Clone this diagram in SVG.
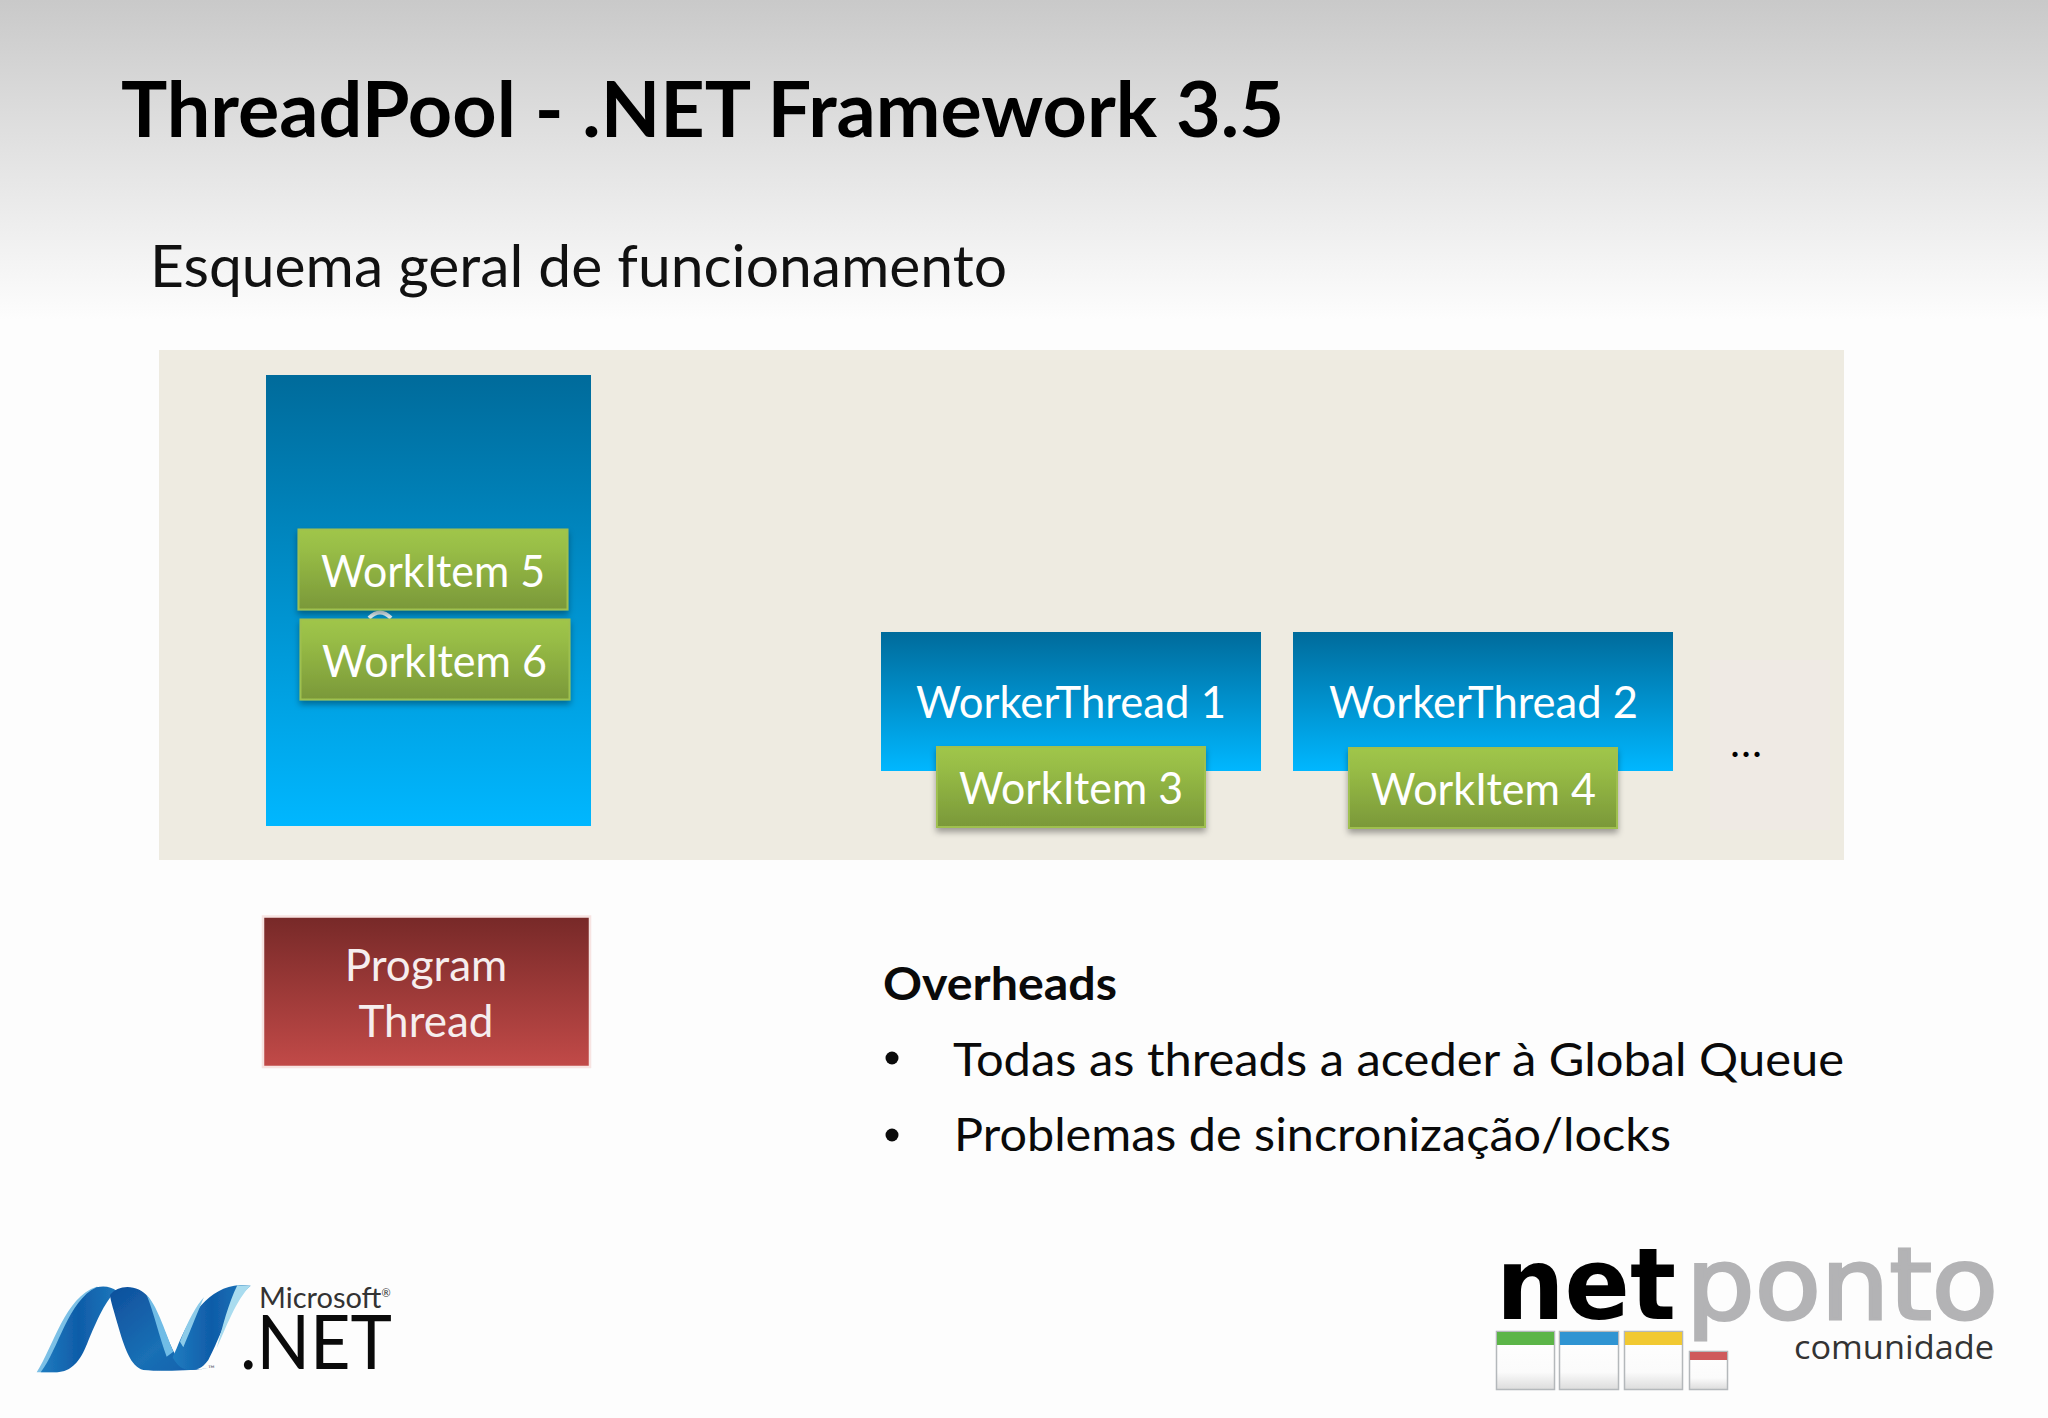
<svg xmlns="http://www.w3.org/2000/svg" width="2048" height="1418" viewBox="0 0 2048 1418">
<style>
text{font-family:"Lato","Liberation Sans",sans-serif}
.w{fill:#fff;font-size:44px}
.k{fill:#0a0a0a;font-size:46px}
.c{text-anchor:middle}
</style>
<defs>
<linearGradient id="bg" x1="0" y1="0" x2="0" y2="1"><stop offset="0" stop-color="#c9c9c9"/><stop offset="0.35" stop-color="#dcdcdc"/><stop offset="1" stop-color="#fdfdfd"/></linearGradient>
<linearGradient id="blue" x1="0" y1="0" x2="0" y2="1"><stop offset="0" stop-color="#006b9b"/><stop offset="1" stop-color="#00b7ff"/></linearGradient>
<linearGradient id="green" x1="0" y1="0" x2="0" y2="1"><stop offset="0" stop-color="#a0c64a"/><stop offset="0.25" stop-color="#98bd46"/><stop offset="1" stop-color="#7a9839"/></linearGradient>
<linearGradient id="red" x1="0" y1="0" x2="0" y2="1"><stop offset="0" stop-color="#772928"/><stop offset="1" stop-color="#c24a48"/></linearGradient>
<linearGradient id="rib1" x1="0" y1="0" x2="1" y2="0"><stop offset="0" stop-color="#1f7cc0"/><stop offset="0.5" stop-color="#0f5ca8"/><stop offset="1" stop-color="#1d78bc"/></linearGradient>
<linearGradient id="rib2" x1="0" y1="0" x2="1" y2="1"><stop offset="0" stop-color="#0e4f9c"/><stop offset="0.6" stop-color="#1a70b5"/><stop offset="1" stop-color="#0f5dab"/></linearGradient>
<linearGradient id="win" x1="0" y1="0" x2="0" y2="1"><stop offset="0" stop-color="#fff"/><stop offset="0.7" stop-color="#fbfbfb"/><stop offset="1" stop-color="#dcdcdc"/></linearGradient>
<filter id="sh" x="-5%" y="-10%" width="110%" height="130%"><feDropShadow dx="0" dy="4" stdDeviation="3" flood-color="#000" flood-opacity="0.35"/></filter>
<filter id="soft" x="-5%" y="-5%" width="110%" height="110%"><feGaussianBlur stdDeviation="1.500"/></filter>
</defs>
<rect id="background" width="2048" height="1418" fill="#fdfdfd"/>
<rect width="2048" height="320" fill="url(#bg)"/>
<text x="121" y="137" font-weight="700" font-size="76" fill="#000" textLength="1163" lengthAdjust="spacingAndGlyphs">ThreadPool - .NET Framework 3.5</text>
<text x="150" y="287" font-size="59" fill="#111" textLength="857" lengthAdjust="spacingAndGlyphs">Esquema geral de funcionamento</text>
<rect id="panel" x="159" y="350" width="1685" height="510" fill="#eeebe1"/>
<rect x="1710" y="660" width="120" height="170" fill="#efeae4"/>
<g id="connectors"/>
<g id="global-queue">
<rect x="266" y="375" width="325" height="451" fill="url(#blue)"/>
<path d="M369 618 Q380 607 391 618" fill="none" stroke="#e4f5fb" stroke-width="4"/>
</g>
<g id="workitem-5"><rect x="298.500" y="529.500" width="269" height="80" fill="url(#green)" stroke="#9fc04f" stroke-width="2" filter="url(#sh)"/><text class="w" x="321" y="587" textLength="224" lengthAdjust="spacingAndGlyphs">WorkItem 5</text></g>
<g id="workitem-6"><rect x="300.500" y="619.500" width="269" height="80" fill="url(#green)" stroke="#9fc04f" stroke-width="2" filter="url(#sh)"/><text class="w" x="322" y="677" textLength="225" lengthAdjust="spacingAndGlyphs">WorkItem 6</text></g>
<g id="worker-thread-1"><rect x="881" y="632" width="380" height="139" fill="url(#blue)"/><text class="w" x="916" y="718" textLength="310" lengthAdjust="spacingAndGlyphs">WorkerThread 1</text></g>
<g id="worker-thread-2"><rect x="1293" y="632" width="380" height="139" fill="url(#blue)"/><text class="w" x="1329" y="718" textLength="309" lengthAdjust="spacingAndGlyphs">WorkerThread 2</text></g>
<g id="workitem-3"><rect x="937" y="747" width="268" height="80" fill="url(#green)" stroke="#9fc04f" stroke-width="2" filter="url(#sh)"/><text class="w" x="959" y="804" textLength="224" lengthAdjust="spacingAndGlyphs">WorkItem 3</text></g>
<g id="workitem-4"><rect x="1349" y="748" width="268" height="80" fill="url(#green)" stroke="#9fc04f" stroke-width="2" filter="url(#sh)"/><text class="w" x="1371" y="805" textLength="225" lengthAdjust="spacingAndGlyphs">WorkItem 4</text></g>
<text id="ellipsis" x="1731" y="757" font-size="34" font-weight="700" fill="#000" textLength="30">...</text>
<g id="program-thread"><rect x="263" y="916.500" width="327" height="150.500" fill="url(#red)" stroke="#f7e4e2" stroke-width="2.500"/>
<text class="c" x="426" y="981" font-size="44" fill="#f6eeee">Program</text><text class="c" x="426" y="1037" font-size="44" fill="#f6eeee">Thread</text></g>
<g id="overheads">
<text class="k" x="883" y="1000" font-weight="700" textLength="234" lengthAdjust="spacingAndGlyphs">Overheads</text>
<circle cx="892" cy="1058" r="6.500" fill="#0a0a0a"/>
<text class="k" x="953" y="1076" textLength="891" lengthAdjust="spacingAndGlyphs">Todas as threads a aceder à Global Queue</text>
<circle cx="892" cy="1135" r="6.500" fill="#0a0a0a"/>
<text class="k" x="954" y="1151" textLength="717" lengthAdjust="spacingAndGlyphs">Problemas de sincronização/locks</text>
</g>
<g id="dotnet-logo">
<g transform="translate(0 1240) scale(.3333)" filter="url(#soft)">
<path d="M110 397C160 320 195 170 290 140L335 148C265 170 215 310 175 397Z" fill="#7cc0e6"/>
<path d="M122 397C175 330 205 180 290 142C315 136 335 142 350 152C320 175 290 240 262 310C240 365 215 395 170 397Z" fill="url(#rib1)"/>
<path d="M330 165C355 132 415 132 445 172C478 220 500 300 530 352C550 385 585 392 625 385C590 392 480 395 430 390C392 382 372 320 352 250C342 212 332 185 330 165Z" fill="url(#rib2)"/>
<path d="M440 165C470 195 492 265 520 335L500 350C478 290 462 220 440 165Z" fill="#6fbce6"/>
<path d="M530 325C570 225 625 142 720 135L752 137C695 180 660 295 625 360C605 388 590 390 565 390C545 388 530 375 518 352Z" fill="url(#rib1)"/>
<path d="M712 136L752 137C710 175 675 270 650 325C668 260 685 190 712 136Z" fill="#a9dcef"/>
<path d="M540 305C565 240 590 195 612 172C598 205 572 270 550 322Z" fill="#8ccbe9"/>
</g>
<text x="208" y="1372" font-size="9" fill="#667" font-family="Open Sans">™</text>
<text x="259" y="1308" font-family="Open Sans" font-size="29" fill="#333">Microsoft<tspan font-size="11" dy="-11">®</tspan></text>
<text x="240" y="1369" font-family="Open Sans" font-size="76" fill="#0a0a0a" textLength="152" lengthAdjust="spacingAndGlyphs">.NET</text>
</g>
<g id="netponto-logo">
<text x="1496" y="1319" style="font-family:'DejaVu Sans',sans-serif" font-weight="700" font-size="100" fill="#000" textLength="180" lengthAdjust="spacingAndGlyphs">net</text>
<text x="1686" y="1319" style="font-family:'DejaVu Sans',sans-serif" font-size="100" fill="#b3b3b5" stroke="#b3b3b5" stroke-width="3" textLength="312" lengthAdjust="spacingAndGlyphs">ponto</text>
<text x="1794" y="1359" style="font-family:'Open Sans',sans-serif" font-size="33" fill="#333" textLength="200" lengthAdjust="spacingAndGlyphs">comunidade</text>
<rect x="1496.500" y="1331.500" width="58" height="58" fill="url(#win)" stroke="#b4b8bb" stroke-width="1.500"/><rect x="1497" y="1332" width="57" height="13" fill="#5cb548"/>
<rect x="1559.500" y="1331.500" width="59" height="58" fill="url(#win)" stroke="#b4b8bb" stroke-width="1.500"/><rect x="1560" y="1332" width="58" height="13" fill="#2f94d2"/>
<rect x="1624.500" y="1331.500" width="58" height="58" fill="url(#win)" stroke="#b4b8bb" stroke-width="1.500"/><rect x="1625" y="1332" width="57" height="13" fill="#f1c932"/>
<rect x="1689.500" y="1351.500" width="38" height="38" fill="url(#win)" stroke="#b4b8bb" stroke-width="1.500"/><rect x="1690" y="1352" width="37" height="8" fill="#cf5a5c"/>
</g>
</svg>
